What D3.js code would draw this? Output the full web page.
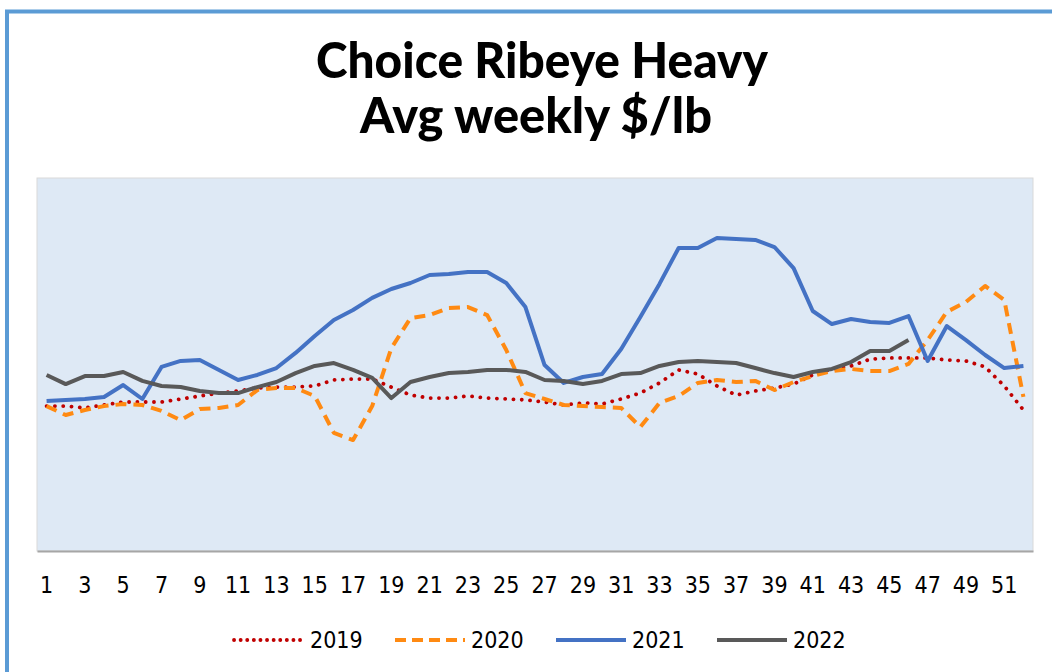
<!DOCTYPE html>
<html>
<head>
<meta charset="utf-8">
<script src="https://cdn.jsdelivr.net/npm/d3@7"></script>
<style>
  html, body { margin: 0; padding: 0; background: #ffffff; }
  svg { display: block; }
</style>
</head>
<body>
<svg id="chart" width="1052" height="672"></svg>
<script>
// ---- data ----
const titleLines = ["Choice Ribeye Heavy", "Avg weekly $/lb"];
const weeks = d3.range(1, 53);
const tickLabels = weeks.filter(w => w % 2 === 1);
const seriesNames = ["2019", "2020", "2021", "2022"];

const values2019 = [7.77,7.77,7.67,7.83,7.99,7.99,7.99,8.15,8.31,8.47,8.58,8.74,8.79,8.79,8.85,9.17,9.22,9.22,8.79,8.36,
  8.20,8.20,8.31,8.20,8.15,8.10,7.99,7.83,7.94,7.88,8.15,8.47,9.01,9.71,9.49,8.85,8.36,8.58,8.74,8.95,
  9.44,9.76,9.92,10.29,10.35,10.35,10.35,10.24,10.19,9.87,8.85,7.56];
const values2020 = [7.77,7.29,7.56,7.77,7.88,7.83,7.51,7.02,7.61,7.67,7.83,8.63,8.74,8.74,8.31,6.33,5.95,7.77,10.88,12.49,
  12.65,13.03,13.08,12.65,10.78,8.47,8.15,7.83,7.77,7.72,7.67,6.65,7.94,8.31,9.01,9.17,9.06,9.12,8.63,9.06,
  9.38,9.65,9.76,9.65,9.65,10.03,11.31,12.82,13.35,14.21,13.46,8.26];
const values2021 = [8.04,8.10,8.15,8.26,8.90,8.15,9.87,10.19,10.24,9.71,9.17,9.44,9.81,10.62,11.53,12.39,12.92,13.57,14.05,14.37,
  14.80,14.85,14.96,14.96,14.37,13.08,9.97,9.01,9.33,9.49,10.83,12.55,14.32,16.25,16.25,16.78,16.73,16.68,16.30,15.17,
  12.87,12.17,12.44,12.28,12.23,12.60,10.19,12.06,11.31,10.51,9.81,9.92];
const values2022 = [9.44,8.95,9.38,9.38,9.60,9.12,8.85,8.79,8.58,8.47,8.47,8.79,9.06,9.54,9.92,10.08,9.71,9.28,8.20,9.06,
  9.33,9.54,9.60,9.71,9.71,9.60,9.17,9.12,8.95,9.12,9.49,9.54,9.92,10.13,10.19,10.13,10.08,9.81,9.54,9.33,
  9.60,9.76,10.13,10.72,10.72,11.31];
const yDomain = [0, 20];

// ---- styles ----
const styles = {
  "2019": { color: "#c00000", width: 3.8, dash: "0.1 8.2", cap: "round" },
  "2020": { color: "#ff8a12", width: 4, dash: "11 7", cap: "butt" },
  "2021": { color: "#4472c4", width: 4, dash: null, cap: "butt" },
  "2022": { color: "#595959", width: 4, dash: null, cap: "butt" }
};
const seriesData = {
  "2019": values2019, "2020": values2020, "2021": values2021, "2022": values2022
};

const svg = d3.select("#chart");
const W = 1052, H = 672;
const plot = { left: 37, right: 1033, top: 178, bottom: 551 };
const labelFont = "'Liberation Sans Narrow', 'DejaVu Sans Condensed', Lato, sans-serif";

// outer frame (blue border top & left)
svg.append("rect").attr("x", 7).attr("y", 11.5).attr("width", W + 20).attr("height", H + 20)
  .attr("fill", "#ffffff").attr("stroke", "#5b9bd5").attr("stroke-width", 4);

// title
const titleY = [78, 133];
svg.selectAll("text.title").data(titleLines).join("text")
  .attr("class", "title")
  .attr("x", (d, i) => i === 0 ? 542 : 536)
  .attr("y", (d, i) => titleY[i])
  .attr("text-anchor", "middle")
  .attr("font-family", "Lato, 'Open Sans', sans-serif")
  .attr("font-weight", 900)
  .attr("font-size", 50)
  .attr("textLength", (d, i) => i === 0 ? 452 : 352)
  .attr("lengthAdjust", "spacingAndGlyphs")
  .attr("fill", "#000")
  .text(d => d);

// scales
const x = d3.scaleBand().domain(weeks).range([plot.left, plot.right]);
const y = d3.scaleLinear().domain(yDomain).range([plot.bottom, plot.top]);
const cx = w => x(w) + x.bandwidth() / 2;

// plot background
svg.append("rect")
  .attr("x", plot.left).attr("y", plot.top)
  .attr("width", plot.right - plot.left).attr("height", plot.bottom - plot.top)
  .attr("fill", "#dee9f5").attr("stroke", "#d9d9d9").attr("stroke-width", 1);

// x axis
const xAxis = d3.axisBottom(x).tickValues(tickLabels).tickSize(0).tickPadding(26);
const gx = svg.append("g").attr("transform", `translate(0,${plot.bottom})`).call(xAxis);
gx.select(".domain").attr("stroke", "#a6a6a6").attr("stroke-width", 2);
gx.selectAll("text")
  .attr("font-family", labelFont)
  .attr("font-size", 23)
  .attr("fill", "#000");

// lines
const line = d3.line()
  .x((d, i) => cx(weeks[i]))
  .y(d => y(d));

seriesNames.forEach(name => {
  const st = styles[name];
  svg.append("path")
    .datum(seriesData[name])
    .attr("fill", "none")
    .attr("stroke", st.color)
    .attr("stroke-width", st.width)
    .attr("stroke-linecap", st.cap)
    .attr("stroke-linejoin", "round")
    .attr("stroke-dasharray", st.dash)
    .attr("d", line);
});

// legend
const legendY = 640;
const legend = svg.append("g");
seriesNames.forEach((name, i) => {
  const st = styles[name];
  const x0 = 234 + i * 161;
  legend.append("line")
    .attr("x1", x0).attr("x2", x0 + 70)
    .attr("y1", legendY).attr("y2", legendY)
    .attr("stroke", st.color).attr("stroke-width", st.width)
    .attr("stroke-linecap", st.cap)
    .attr("stroke-dasharray", name === "2019" ? "0.1 6.5" : (name === "2020" ? "11 6" : null));
  legend.append("text")
    .attr("x", x0 + 76).attr("y", legendY + 8)
    .attr("font-family", labelFont)
    .attr("font-size", 23)
    .attr("fill", "#000")
    .text(name);
});
</script>
</body>
</html>
